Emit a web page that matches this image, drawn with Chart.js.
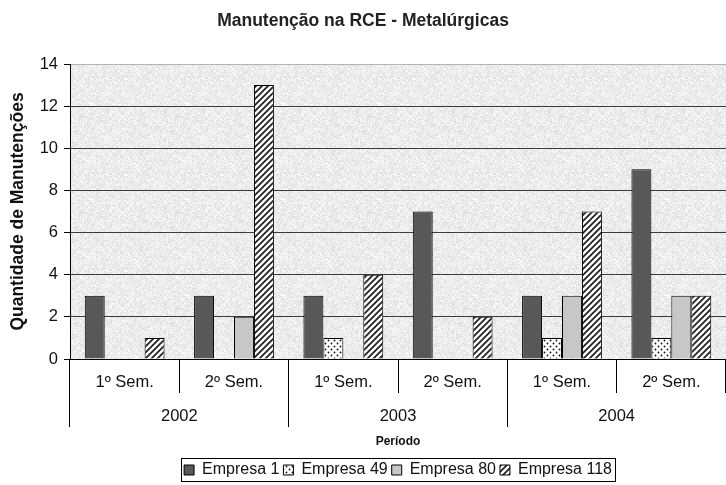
<!DOCTYPE html>
<html>
<head>
<meta charset="utf-8">
<script src="https://cdn.jsdelivr.net/npm/chart.js@4.4.0/dist/chart.umd.min.js"></script>
<style>
  body { margin: 0; background: #fff; }
</style>
</head>
<body>
<canvas id="barChart" width="726" height="485"></canvas>
<script>
// Categorias do eixo x (semestres) e o nivel de cima (anos)
var periods = ['1º Sem.', '2º Sem.', '1º Sem.', '2º Sem.', '1º Sem.', '2º Sem.'];
var years = ['2002', '2003', '2004'];
// Nomes das series
var seriesNames = ['Empresa 1', 'Empresa 49', 'Empresa 80', 'Empresa 118'];
// Quantidade de manutencoes por empresa
var empresa1 = [3, 3, 3, 7, 3, 9];
var empresa49 = [0, 0, 1, 0, 1, 1];
var empresa80 = [0, 2, 0, 0, 3, 3];
var empresa118 = [1, 13, 4, 2, 7, 3];

var FONT = "'Liberation Sans', Arial, sans-serif";

// Padroes de preenchimento (pontos, listras, fundo granulado)
function makePattern(type) {
    var c = document.createElement('canvas');
    var ctx = c.getContext('2d');
    if (type === 'dots') {
        c.width = 6; c.height = 6;
        ctx.fillStyle = '#fff';
        ctx.fillRect(0, 0, 6, 6);
        ctx.fillStyle = '#111';
        ctx.beginPath(); ctx.arc(1.5, 1.5, 0.9, 0, Math.PI * 2); ctx.fill();
        ctx.beginPath(); ctx.arc(4.5, 4.5, 0.9, 0, Math.PI * 2); ctx.fill();
    } else if (type === 'stripes') {
        c.width = 6; c.height = 6;
        ctx.fillStyle = '#fff';
        ctx.fillRect(0, 0, 6, 6);
        ctx.strokeStyle = '#222';
        ctx.lineWidth = 1.8;
        ctx.beginPath();
        ctx.moveTo(-1, 7); ctx.lineTo(7, -1);
        ctx.moveTo(-4, 4); ctx.lineTo(4, -4);
        ctx.moveTo(2, 10); ctx.lineTo(10, 2);
        ctx.stroke();
    } else {
        // textura cinza clara, deterministica
        c.width = 96; c.height = 96;
        var img = ctx.createImageData(96, 96);
        for (var y = 0; y < 96; y++) {
            for (var x = 0; x < 96; x++) {
                var h = Math.sin(x * 12.9898 + y * 78.233) * 43758.5453;
                h = h - Math.floor(h);
                var h2 = Math.sin((x >> 1) * 3.17 + (y >> 1) * 9.71) * 15731.743;
                h2 = h2 - Math.floor(h2);
                var v = 236 + (h - 0.5) * 22 + (h2 - 0.5) * 14;
                var i = (y * 96 + x) * 4;
                img.data[i] = v; img.data[i + 1] = v; img.data[i + 2] = v; img.data[i + 3] = 255;
            }
        }
        ctx.putImageData(img, 0, 0);
    }
    return ctx.createPattern(c, 'repeat');
}

var dotsPattern = makePattern('dots');
var stripesPattern = makePattern('stripes');
var granite = makePattern('granite');

// Fundo da area do grafico
var plotBackground = {
    id: 'plotBackground',
    beforeDraw: function (chart) {
        var a = chart.chartArea;
        var ctx = chart.ctx;
        ctx.save();
        ctx.fillStyle = granite;
        ctx.fillRect(a.left, a.top, a.right - a.left, a.bottom - a.top);
        ctx.restore();
    }
};

// Moldura da legenda
var legendFrame = {
    id: 'legendFrame',
    afterDraw: function (chart) {
        var boxes = chart.legend.legendHitBoxes;
        if (!boxes || !boxes.length) return;
        var l = boxes[0].left, r = boxes[boxes.length - 1].left + boxes[boxes.length - 1].width;
        var t = boxes[0].top, b = boxes[0].top + boxes[0].height;
        var ctx = chart.ctx;
        ctx.save();
        ctx.strokeStyle = '#000';
        ctx.lineWidth = 1;
        ctx.strokeRect(Math.round(l - 3) + 0.5, Math.round(t - 4) + 0.5, Math.round(r - l + 6), Math.round(b - t + 7));
        ctx.restore();
    }
};

var barChartData = {
    labels: periods,
    datasets: [
        { label: seriesNames[0], data: empresa1, backgroundColor: '#58585a' },
        { label: seriesNames[1], data: empresa49, backgroundColor: dotsPattern },
        { label: seriesNames[2], data: empresa80, backgroundColor: '#c6c7c9' },
        { label: seriesNames[3], data: empresa118, backgroundColor: stripesPattern }
    ]
};
barChartData.datasets.forEach(function (ds) {
    ds.borderColor = '#000';
    ds.borderWidth = 1;
    ds.categoryPercentage = 0.73;
    ds.barPercentage = 1;
});

var barChartOptions = {
    responsive: false,
    animation: false,
    layout: { padding: { left: 0, right: 0, top: 0, bottom: -3 } },
    plugins: {
        title: {
            display: true,
            text: 'Manutenção na RCE - Metalúrgicas',
            color: '#222',
            font: { family: FONT, size: 17.5, weight: 'bold' },
            padding: { top: 11, bottom: 32 }
        },
        legend: {
            position: 'bottom',
            fullSize: false,
            labels: {
                color: '#111',
                font: { family: FONT, size: 16 },
                boxWidth: 10,
                boxHeight: 10,
                padding: 4
            }
        },
        tooltip: { enabled: false }
    },
    scales: {
        x: {
            type: 'category',
            offset: true,
            grid: { offset: true, drawOnChartArea: false, tickLength: 34, color: '#000' },
            border: { display: true, color: '#000', width: 1 },
            ticks: {
                color: '#111',
                font: { family: FONT, size: 16.5 },
                padding: -20,
                autoSkip: false,
                maxRotation: 0
            },
            afterFit: function (scale) { scale.height = 34; }
        },
        x2: {
            type: 'category',
            labels: years,
            position: 'bottom',
            weight: 1,
            offset: true,
            grid: { offset: true, drawOnChartArea: false, tickLength: 34, color: '#000' },
            border: { display: false },
            ticks: {
                color: '#111',
                font: { family: FONT, size: 16.5 },
                padding: -20,
                autoSkip: false,
                maxRotation: 0
            },
            title: {
                display: true,
                text: 'Período',
                color: '#111',
                font: { family: FONT, size: 12, weight: 'bold' },
                padding: { top: 0, bottom: 9 }
            },
            afterFit: function (scale) { scale.height = 65; }
        },
        y: {
            min: 0,
            max: 14,
            ticks: {
                stepSize: 2,
                color: '#111',
                font: { family: FONT, size: 16.5 },
                padding: 6
            },
            grid: {
                color: function (c) { return c.tick && c.tick.value === 14 ? '#b4b4b4' : '#3c3c3c'; },
                tickColor: '#000',
                tickLength: 6
            },
            border: { display: true, color: '#000', width: 1 },
            title: {
                display: true,
                text: 'Quantidade de Manutenções',
                color: '#111',
                font: { family: FONT, size: 17.5, weight: 'bold' },
                padding: { top: 8, bottom: 0 }
            },
            afterFit: function (scale) { scale.width = 70; }
        }
    }
};

var barChartCanvas = document.getElementById('barChart').getContext('2d');
new Chart(barChartCanvas, {
    type: 'bar',
    data: barChartData,
    options: barChartOptions,
    plugins: [plotBackground, legendFrame]
});
</script>
</body>
</html>
